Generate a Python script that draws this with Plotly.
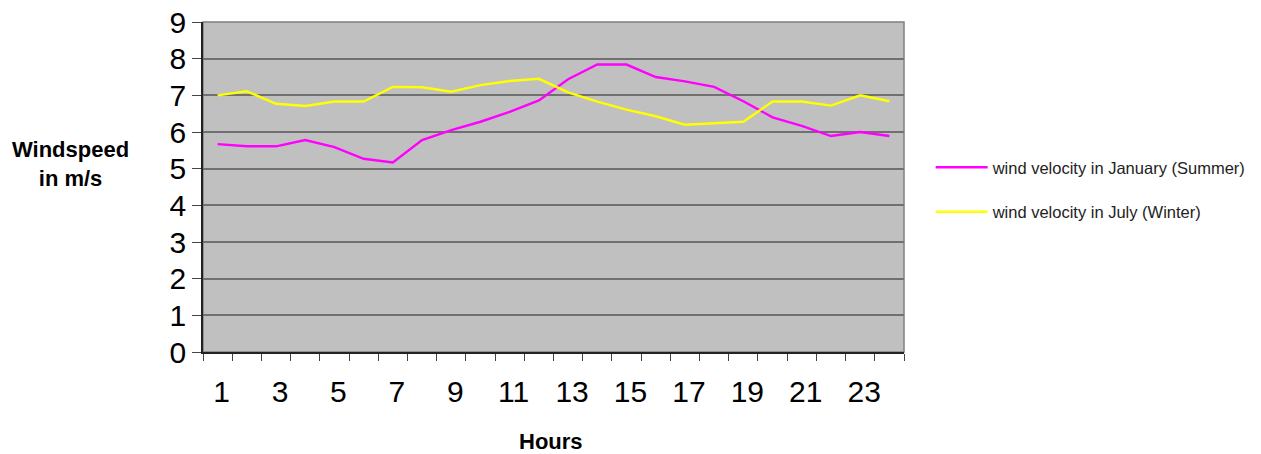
import plotly.graph_objects as go

hours = list(range(1, 25))
january_summer = [5.67, 5.61, 5.61, 5.78, 5.59, 5.27, 5.17, 5.78, 6.05, 6.28, 6.55, 6.86,
                  7.44, 7.84, 7.84, 7.50, 7.38, 7.23, 6.84, 6.40, 6.17, 5.89, 6.00, 5.89]
july_winter = [7.00, 7.11, 6.77, 6.71, 6.83, 6.83, 7.23, 7.22, 7.10, 7.28, 7.39, 7.45,
               7.08, 6.83, 6.61, 6.43, 6.20, 6.24, 6.28, 6.83, 6.83, 6.72, 7.00, 6.84]
x_tick_labels = [1, 3, 5, 7, 9, 11, 13, 15, 17, 19, 21, 23]
y_ticks = list(range(0, 10))

FONT = "Arial, Liberation Sans, sans-serif"

fig = go.Figure()
fig.add_trace(go.Scatter(x=hours, y=january_summer, mode="lines",
                         name="wind velocity in January (Summer)",
                         line=dict(color="#FF00FF", width=2.4), legendgroup="a"))
fig.add_trace(go.Scatter(x=hours, y=july_winter, mode="lines",
                         name="wind velocity in July (Winter)",
                         line=dict(color="#FFFF00", width=2.4), legendgroup="b"))

fig.update_layout(
    width=1261, height=454,
    margin=dict(l=203, r=357, t=22, b=102, autoexpand=False),
    paper_bgcolor="white",
    plot_bgcolor="#C0C0C0",
    font=dict(family=FONT, color="black"),
    showlegend=True,
    legend=dict(x=1.038, y=0.612, xanchor="left", yanchor="top",
                font=dict(size=16.5, color="#222"), itemwidth=52,
                tracegroupgap=20, bgcolor="rgba(0,0,0,0)"),
    shapes=[dict(type="rect", xref="x domain", yref="y domain", x0=0, x1=1, y0=0, y1=1,
                 line=dict(color="#808080", width=1.5), layer="below")],
    annotations=[
        dict(text="<b>Windspeed<br>in m/s</b>", xref="paper", yref="paper",
             x=-0.1895, y=0.570, xanchor="center", yanchor="middle", showarrow=False,
             font=dict(size=22, family=FONT), align="center"),
        dict(text="<b>Hours</b>", xref="paper", yref="paper", x=0.497, y=-0.272,
             xanchor="center", yanchor="middle", showarrow=False,
             font=dict(size=22, family=FONT)),
    ],
)

fig.update_xaxes(
    range=[0.5, 24.5], tickmode="array", tickvals=x_tick_labels,
    ticktext=[str(v) for v in x_tick_labels], ticks="", automargin=False,
    tickfont=dict(size=30, family=FONT), ticklabelstandoff=12, ticklabelshift=4,
    showgrid=False, zeroline=False, showline=True, linecolor="#222", linewidth=1.5,
    minor=dict(tickmode="array", tickvals=[h + 0.5 for h in range(0, 25)],
               ticks="outside", ticklen=7, tickcolor="#444", tickwidth=1, showgrid=False),
)
fig.update_yaxes(
    range=[0, 9], tickmode="array", tickvals=y_ticks, ticks="outside", ticklen=9,
    tickcolor="#444", tickfont=dict(size=30, family=FONT), ticklabelstandoff=0,
    automargin=False,
    showgrid=True, gridcolor="#707070", gridwidth=1.5, zeroline=False,
    showline=True, linecolor="#222", linewidth=1.5,
)

fig.write_html("out.html", config={"displayModeBar": False},
               post_script="document.body.style.margin='0';document.body.style.padding='0';")
